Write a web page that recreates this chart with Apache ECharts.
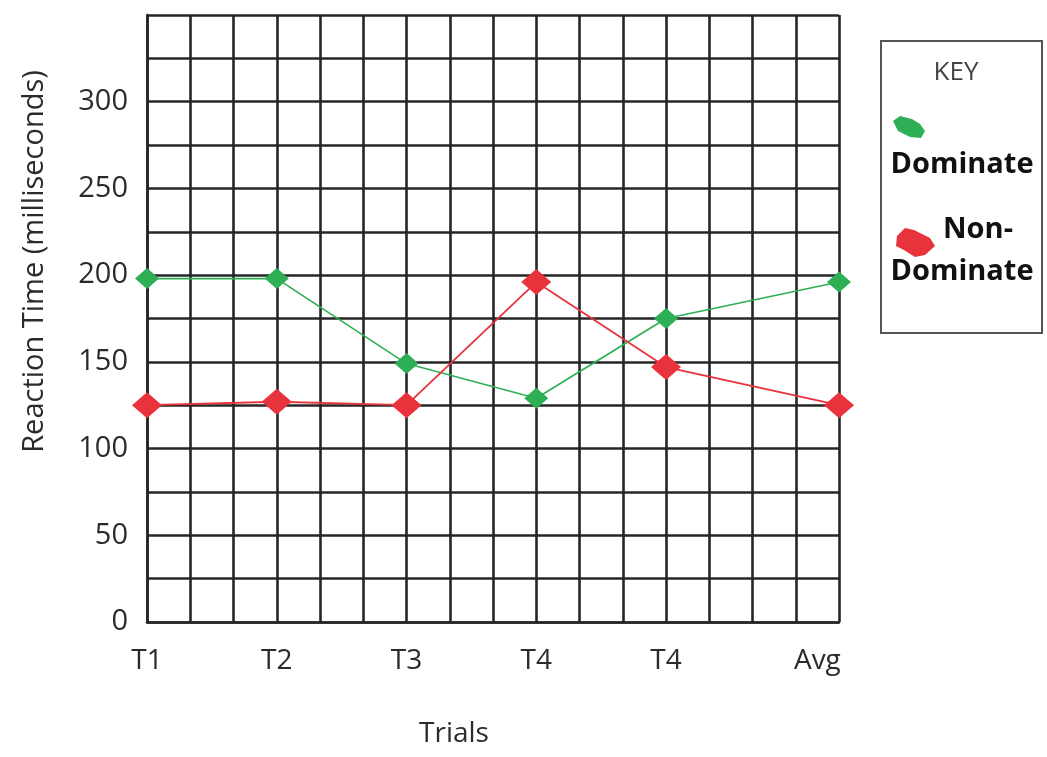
<!DOCTYPE html>
<html>
<head>
<meta charset="utf-8">
<script src="https://cdn.jsdelivr.net/npm/echarts@6/dist/echarts.min.js"></script>
<style>
html,body{margin:0;padding:0;background:#fff;}
#chart{width:1047px;height:757px;}
</style>
</head>
<body>
<div id="chart"></div>
<script>
// ---- data ----
var trialLabels = ['T1', 'T2', 'T3', 'T4', 'T4', 'Avg'];
var trialX = [0, 3, 6, 9, 12, 16];          // position of each trial on the grid (grid columns)
var labelX = [0, 3, 6, 9, 12, 15.5];        // where each trial label is written
var dominate = [198, 198, 149, 129, 175, 196];
var nonDominate = [125, 127, 125, 196, 147, 125];
var yTickLabels = ['0', '50', '100', '150', '200', '250', '300'];

var FONT = '"Open Sans", "Noto Sans", sans-serif';
var GREEN = '#2eaf55';
var RED = '#e8333d';
var TXT = '#2b2b2b';

function pairs(xs, ys) { return ys.map(function (v, i) { return [xs[i], v]; }); }

var chart = echarts.init(document.getElementById('chart'), null, {renderer: 'canvas'});
var option = {
  animation: false,
  backgroundColor: '#ffffff',
  grid: {left: 147, right: 208, top: 15, bottom: 135, containLabel: false},
  xAxis: [
    {
      type: 'value', min: 0, max: 16, interval: 1,
      axisLine: {show: true, lineStyle: {color: '#262626', width: 2.6}},
      axisTick: {show: false},
      axisLabel: {show: false},
      splitLine: {show: true, lineStyle: {color: '#262626', width: 2.6}}
    },
    {
      type: 'value', min: 0, max: 16, interval: 0.5, position: 'bottom',
      axisLine: {show: false}, axisTick: {show: false}, splitLine: {show: false},
      axisLabel: {
        show: true, margin: 25, color: TXT, fontSize: 28, fontFamily: FONT,
        showMinLabel: true, showMaxLabel: true,
        formatter: function (v) {
          for (var i = 0; i < labelX.length; i++) { if (Math.abs(labelX[i] - v) < 1e-6) return trialLabels[i]; }
          return '';
        }
      },
      name: 'Trials', nameLocation: 'middle', nameGap: 98,
      nameTextStyle: {color: TXT, fontSize: 28, fontFamily: FONT, padding: [0, 78, 0, 0]}
    }
  ],
  yAxis: {
    type: 'value', min: 0, max: 350, interval: 25,
    axisLine: {show: true, lineStyle: {color: '#262626', width: 2.6}},
    axisTick: {show: false},
    splitLine: {show: true, lineStyle: {color: '#262626', width: 2.6}},
    axisLabel: {
      margin: 19, color: TXT, fontSize: 29, fontFamily: FONT,
      formatter: function (v) {
        var idx = v / 50;
        return (v % 50 === 0 && idx < yTickLabels.length) ? yTickLabels[idx] : '';
      }
    },
    name: 'Reaction Time (milliseconds)', nameLocation: 'middle', nameGap: 98,
    nameTextStyle: {color: TXT, fontSize: 29, fontFamily: FONT, padding: [0, 0, 0, 114]}
  },
  series: [
    {
      name: 'Dominate', type: 'line', xAxisIndex: 0,
      data: pairs(trialX, dominate),
      symbol: 'diamond', symbolSize: [24, 21],
      lineStyle: {color: GREEN, width: 1.6},
      itemStyle: {color: GREEN},
      z: 3
    },
    {
      name: 'Non-Dominate', type: 'line', xAxisIndex: 0,
      data: pairs(trialX, nonDominate),
      symbol: 'diamond', symbolSize: [30, 26],
      lineStyle: {color: RED, width: 1.8},
      itemStyle: {color: RED},
      z: 4
    }
  ],
  graphic: [
    {type: 'rect', shape: {x: 881, y: 41, width: 161, height: 292},
     style: {fill: 'none', stroke: '#555', lineWidth: 2}},
    {type: 'text', x: 956, y: 73,
     style: {text: 'KEY', fill: '#444', font: '26px ' + FONT, textAlign: 'center', textVerticalAlign: 'middle'}},
    {type: 'polygon', shape: {points: [[893,121],[900,116],[912,119],[920,124],[925,131],[921,138],[910,137],[898,131]]},
     style: {fill: GREEN}},
    {type: 'text', x: 962, y: 165,
     style: {text: 'Dominate', fill: '#111', font: 'bold 29px ' + FONT, textAlign: 'center', textVerticalAlign: 'middle'}},
    {type: 'polygon', shape: {points: [[897,236],[905,228],[914,230],[930,238],[935,246],[925,255],[915,257],[904,250],[896,246]]},
     style: {fill: RED}},
    {type: 'text', x: 978, y: 230,
     style: {text: 'Non-', fill: '#111', font: 'bold 29px ' + FONT, textAlign: 'center', textVerticalAlign: 'middle'}},
    {type: 'text', x: 962, y: 272,
     style: {text: 'Dominate', fill: '#111', font: 'bold 29px ' + FONT, textAlign: 'center', textVerticalAlign: 'middle'}}
  ]
};
chart.setOption(option);
</script>
</body>
</html>
